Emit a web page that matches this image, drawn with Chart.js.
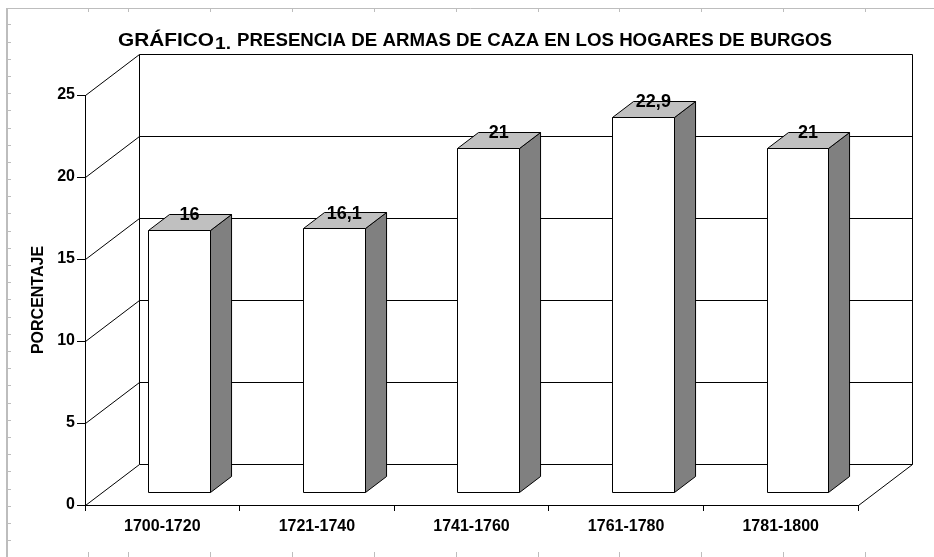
<!DOCTYPE html>
<html>
<head>
<meta charset="utf-8">
<script src="https://cdn.jsdelivr.net/npm/chart.js@4.4.1/dist/chart.umd.min.js"></script>
<style>
  html, body { margin: 0; padding: 0; background: #fff; }
  canvas { display: block; }
</style>
</head>
<body>
<canvas id="c" width="934" height="557"></canvas>
<script>
// ---- data ----
const categories = ['1700-1720', '1721-1740', '1741-1760', '1761-1780', '1781-1800'];
const values = [16, 16.1, 21, 22.9, 21];
const valueLabels = ['16', '16,1', '21', '22,9', '21'];
const yTicks = [0, 5, 10, 15, 20, 25];
const titlePart1 = 'GRÁFICO';
const titlePart2 = '1.';
const titlePart3 = 'PRESENCIA DE ARMAS DE CAZA EN LOS HOGARES DE BURGOS';
const yAxisTitle = 'PORCENTAJE';

// ---- style ----
const FONT = "'Liberation Sans', Arial, sans-serif";
const WALL = { dx: 54, dy: -41 };          // depth vector of the 3D box
const FRONT_F = 0.31, BACK_F = 0.70;       // bar depth position (fraction of wall depth)

const pagePlugin = {
  id: 'page',
  beforeDraw(chart) {
    const ctx = chart.ctx;
    ctx.save();
    ctx.fillStyle = '#fff';
    ctx.fillRect(0, 0, chart.width, chart.height);
    ctx.strokeStyle = '#bdbdbd';
    ctx.lineWidth = 2;
    ctx.beginPath();
    ctx.moveTo(7, 8); ctx.lineTo(7, chart.height);
    ctx.stroke();
    ctx.lineWidth = 1;
    ctx.beginPath();
    ctx.moveTo(7, 8.5); ctx.lineTo(chart.width, 8.5);
    ctx.stroke();
    const xs = [88, 128];
    for (let k = 1; k <= 9; k++) xs.push(128 + 81.9 * k);
    ctx.beginPath();
    xs.forEach(x => {
      const px = Math.round(x) + 0.5;
      ctx.moveTo(px, 8); ctx.lineTo(px, 12);
      ctx.moveTo(px, 552); ctx.lineTo(px, 557);
    });
    for (let y = 24.3; y < chart.height; y += 17.2) {
      const py = Math.round(y) + 0.5;
      ctx.moveTo(8, py); ctx.lineTo(11, py);
    }
    ctx.stroke();
    ctx.restore();
  }
};

const box3dPlugin = {
  id: 'box3d',
  beforeDatasetsDraw(chart) {
    const ctx = chart.ctx;
    const ys = chart.scales.y;
    const a = chart.chartArea;
    const L = a.left + 0.5, R = a.right + 0.5;
    ctx.save();
    ctx.strokeStyle = '#000';
    ctx.lineWidth = 1;
    ctx.beginPath();
    // gridlines on side wall + back wall
    yTicks.forEach(v => {
      const py = Math.round(ys.getPixelForValue(v)) + 0.5;
      ctx.moveTo(L, py);
      ctx.lineTo(L + WALL.dx, py + WALL.dy);
      ctx.lineTo(R + WALL.dx, py + WALL.dy);
    });
    const top = Math.round(ys.getPixelForValue(25)) + 0.5;
    const bot = Math.round(ys.getPixelForValue(0)) + 0.5;
    // back wall verticals
    ctx.moveTo(L + WALL.dx, top + WALL.dy); ctx.lineTo(L + WALL.dx, bot + WALL.dy);
    ctx.moveTo(R + WALL.dx, top + WALL.dy); ctx.lineTo(R + WALL.dx, bot + WALL.dy);
    // floor right edge
    ctx.moveTo(R, bot); ctx.lineTo(R + WALL.dx, bot + WALL.dy);
    ctx.stroke();
    ctx.restore();
  },
  afterDatasetsDraw(chart) {
    const ctx = chart.ctx;
    const meta = chart.getDatasetMeta(0);
    const fx = WALL.dx * FRONT_F, fy = WALL.dy * FRONT_F;
    const dx = WALL.dx * (BACK_F - FRONT_F), dy = WALL.dy * (BACK_F - FRONT_F);
    ctx.save();
    ctx.strokeStyle = '#000';
    ctx.lineWidth = 1;
    ctx.lineJoin = 'miter';
    meta.data.forEach((bar, i) => {
      const l = Math.round(bar.x - bar.width / 2 + fx) + 0.5;
      const r = Math.round(bar.x + bar.width / 2 + fx) + 0.5;
      const t = Math.round(bar.y + fy) + 0.5;
      const b = Math.round(bar.base + fy) + 0.5;
      // side face
      ctx.fillStyle = '#808080';
      ctx.beginPath();
      ctx.moveTo(r, t); ctx.lineTo(r + dx, t + dy); ctx.lineTo(r + dx, b + dy); ctx.lineTo(r, b); ctx.closePath();
      ctx.fill(); ctx.stroke();
      // top face
      ctx.fillStyle = '#c0c0c0';
      ctx.beginPath();
      ctx.moveTo(l, t); ctx.lineTo(l + dx, t + dy); ctx.lineTo(r + dx, t + dy); ctx.lineTo(r, t); ctx.closePath();
      ctx.fill(); ctx.stroke();
      // front face
      ctx.fillStyle = '#ffffff';
      ctx.beginPath();
      ctx.rect(l, t, r - l, b - t);
      ctx.fill(); ctx.stroke();
    });
    // value labels
    ctx.fillStyle = '#000';
    ctx.font = 'bold 18px ' + FONT;
    ctx.textAlign = 'center';
    ctx.textBaseline = 'alphabetic';
    meta.data.forEach((bar, i) => {
      const cx = bar.x + fx + dx / 2;
      const cy = bar.y + fy - 9.5;
      ctx.fillText(valueLabels[i], cx, cy);
    });
    ctx.restore();
  },
  afterDraw(chart) {
    const ctx = chart.ctx;
    ctx.save();
    ctx.fillStyle = '#000';
    ctx.textBaseline = 'alphabetic';
    ctx.textAlign = 'left';
    const drawFit = (txt, x, y, w, font) => {
      ctx.font = font;
      const m = ctx.measureText(txt).width;
      ctx.save();
      ctx.translate(x, y);
      ctx.scale(w / m, 1);
      ctx.fillText(txt, 0, 0);
      ctx.restore();
    };
    drawFit(titlePart1, 118, 45.5, 96, 'bold 18px ' + FONT);
    drawFit(titlePart2, 215, 49, 16, 'bold 17px ' + FONT);
    drawFit(titlePart3, 237, 45.5, 595, 'bold 18px ' + FONT);
    ctx.restore();
  }
};

const tickFont = { family: FONT, size: 16, weight: 'bold' };

new Chart(document.getElementById('c'), {
  type: 'bar',
  data: {
    labels: categories,
    datasets: [{
      data: values,
      backgroundColor: 'rgba(0,0,0,0)',
      borderWidth: 0,
      categoryPercentage: 1.0,
      barPercentage: 0.4
    }]
  },
  options: {
    responsive: false,
    animation: false,
    devicePixelRatio: 1,
    layout: { padding: { top: 95, right: 76, left: 0, bottom: 0 } },
    plugins: {
      legend: { display: false },
      title: { display: false },
      tooltip: { enabled: false }
    },
    scales: {
      x: {
        offset: true,
        grid: { display: true, drawOnChartArea: false, drawTicks: true, tickLength: 6, color: '#000', offset: true },
        border: { display: true, color: '#000', width: 1 },
        ticks: { font: tickFont, color: '#000', padding: 6, maxRotation: 0, autoSkip: false },
        afterFit(s) { s.height = 52; }
      },
      y: {
        min: 0, max: 25,
        afterBuildTicks(s) { s.ticks = yTicks.map(v => ({ value: v })); },
        grid: { display: true, drawOnChartArea: false, drawTicks: true, tickLength: 8, color: '#000' },
        border: { display: true, color: '#000', width: 1 },
        ticks: { font: tickFont, color: '#000', padding: 2 },
        title: { display: true, text: yAxisTitle, font: tickFont, color: '#000', padding: { top: 29, bottom: 0 } },
        afterFit(s) { s.width = 85; }
      }
    }
  },
  plugins: [pagePlugin, box3dPlugin]
});
</script>
</body>
</html>
